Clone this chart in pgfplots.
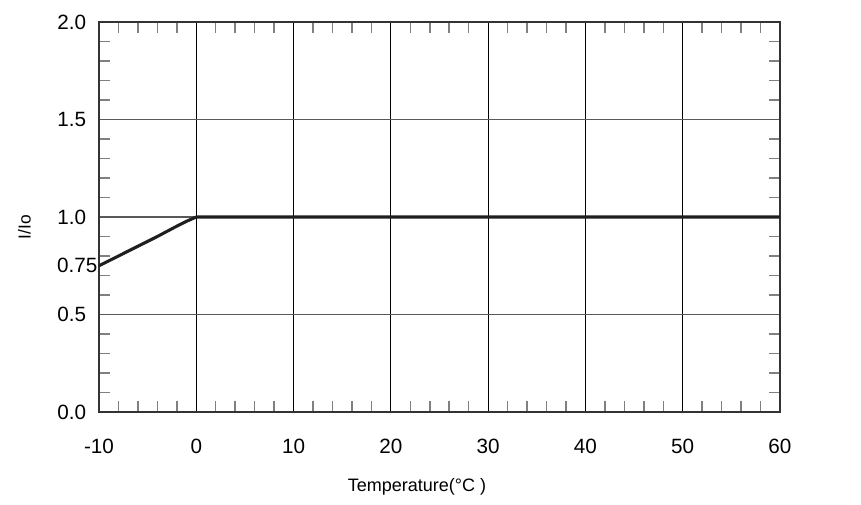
\documentclass[border=0pt]{standalone}
\usepackage{fontspec}
\setmainfont{Liberation Sans}
\usepackage{pgfplots}
\pgfplotsset{compat=1.18}
\begin{document}
\begin{tikzpicture}
\useasboundingbox (-74.25pt,-69.75pt) rectangle (571.5pt,309pt);
\begin{axis}[
  scale only axis,
  width=510.75pt, height=292.5pt,
  xmin=-10, xmax=60, ymin=0, ymax=2,
  xtick={-10,0,10,20,30,40,50,60},
  ytick={0,0.5,1,1.5,2},
  yticklabels={0.0,0.5,1.0,1.5,2.0},
  minor xtick={-8,-6,-4,-2,2,4,6,8,12,14,16,18,22,24,26,28,32,34,36,38,42,44,46,48,52,54,56,58},
  minor ytick={0.1,0.2,0.3,0.4,0.6,0.7,0.8,0.9,1.1,1.2,1.3,1.4,1.6,1.7,1.8,1.9},
  extra y ticks={0.75},
  extra y tick labels={0.75},
  extra y tick style={major tick length=0pt, grid=none, yticklabel style={xshift=8.5pt}},
  tick align=inside,
  tickpos=both,
  major tick length=0pt,
  minor tick length=8pt,
  minor tick style={color=black!50, line width=1.1pt},
  xmajorgrids, ymajorgrids,
  x grid style={black, line width=0.9pt},
  y grid style={black!65, line width=0.9pt},
  axis line style={black!80, line width=1.1pt},
  /pgf/number format/assume math mode=true,
  tick label style={font=\fontsize{15.5}{18}\selectfont, inner sep=0pt},
  xticklabel style={anchor=center, yshift=-25.5pt},
  yticklabel style={anchor=east, xshift=-9.5pt},
  xlabel={Temperature(°C )},
  xlabel style={font=\fontsize{13.5}{16}\selectfont, at={(axis description cs:0.467,-0.1923)}, anchor=center},
  ylabel={I/Io},
  ylabel style={font=\fontsize{13}{15}\selectfont, at={(axis description cs:-0.1094,0.4744)}, anchor=center},
]
\addplot[color=black!88, line width=2.3pt, line join=round, line cap=round] coordinates {
(-10,0.75) (-8,0.80) (-6,0.85) (-4,0.90) (-2,0.953) (-1,0.978) (0,1.0) (60,1.0)
};
\end{axis}
\end{tikzpicture}
\end{document}
